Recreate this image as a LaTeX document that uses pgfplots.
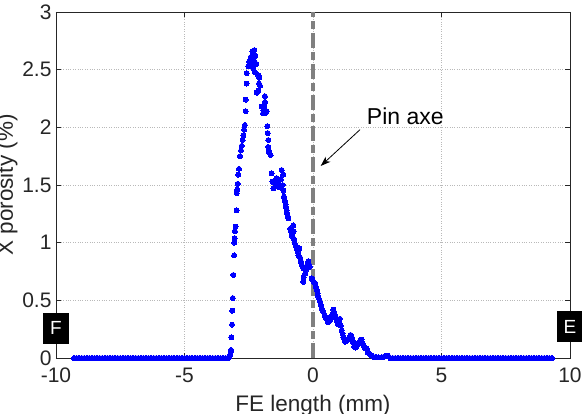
\documentclass[border=0pt]{standalone}
\usepackage{fontspec}
\setmainfont{Liberation Sans}
\usepackage{pgfplots}
\pgfplotsset{compat=1.18}
\usetikzlibrary{arrows.meta}
\definecolor{axcol}{RGB}{38,38,38}
\definecolor{gridcol}{RGB}{185,185,185}
\definecolor{pincol}{RGB}{128,128,128}
\begin{document}
\begin{tikzpicture}
\begin{axis}[
  at={(56pt,56pt)}, anchor=south west,
  width=514pt, height=346pt, scale only axis,
  xmin=-10, xmax=10, ymin=0, ymax=3,
  xtick={-10,-5,0,5,10}, xticklabels={-10,-5,0,5,10},
  ytick={0,0.5,1,1.5,2,2.5,3}, yticklabels={0,0.5,1,1.5,2,2.5,3},
  grid=major,
  major grid style={gridcol, dotted, line width=0.7pt},
  axis line style={axcol, line width=0.8pt},
  tick align=inside, major tick length=5pt,
  tick style={axcol, line width=0.8pt},
  tick label style={font=\fontsize{21}{25}\selectfont, text=axcol},
  xticklabel style={anchor=base, yshift=-25pt},
  yticklabel style={anchor=east, xshift=-1pt},
  every axis x label/.style={at={(axis description cs:0.5,-0.1532)}, anchor=base, font=\fontsize{22.5}{26}\selectfont, text=axcol},
  every axis y label/.style={at={(axis description cs:-0.0837,0.5)}, rotate=90, anchor=base, font=\fontsize{22.5}{26}\selectfont, text=axcol},
  xlabel={FE length (mm)},
  ylabel={X porosity (\%)},
  clip=false,
  axis on top=false,
]
% pin axis line
\addplot[pincol, line width=3.6pt, dash pattern=on 15pt off 4pt on 8pt off 4pt] coordinates {(0,0) (0,3)};
% flat parts
\addplot[only marks, mark=*, mark size=2.5pt, mark options={fill=blue, draw=blue, line width=0pt}] coordinates {
(-9.3,0) (-9.2,0) (-9.1,0) (-9.0,0) (-8.9,0) (-8.8,0) (-8.7,0) (-8.6,0) (-8.5,0) (-8.4,0)
(-8.3,0) (-8.2,0) (-8.1,0) (-8.0,0) (-7.9,0) (-7.8,0) (-7.7,0) (-7.6,0) (-7.5,0) (-7.4,0)
(-7.3,0) (-7.2,0) (-7.1,0) (-7.0,0) (-6.9,0) (-6.8,0) (-6.7,0) (-6.6,0) (-6.5,0) (-6.4,0)
(-6.3,0) (-6.2,0) (-6.1,0) (-6.0,0) (-5.9,0) (-5.8,0) (-5.7,0) (-5.6,0) (-5.5,0) (-5.4,0)
(-5.3,0) (-5.2,0) (-5.1,0) (-5.0,0) (-4.9,0) (-4.8,0) (-4.7,0) (-4.6,0) (-4.5,0) (-4.4,0)
(-4.3,0) (-4.2,0) (-4.1,0) (-4.0,0) (-3.9,0) (-3.8,0) (-3.7,0) (-3.6,0) (-3.5,0) (-3.4,0)
(-3.3,0) (-3.25,0.01) (-3.22,0.03) (-3.20,0.05)
(3.0,0) (3.1,0) (3.2,0) (3.3,0) (3.4,0) (3.5,0) (3.6,0) (3.7,0) (3.8,0) (3.9,0)
(4.0,0) (4.1,0) (4.2,0) (4.3,0) (4.4,0) (4.5,0) (4.6,0) (4.7,0) (4.8,0) (4.9,0)
(5.0,0) (5.1,0) (5.2,0) (5.3,0) (5.4,0) (5.5,0) (5.6,0) (5.7,0) (5.8,0) (5.9,0)
(6.0,0) (6.1,0) (6.2,0) (6.3,0) (6.4,0) (6.5,0) (6.6,0) (6.7,0) (6.8,0) (6.9,0)
(7.0,0) (7.1,0) (7.2,0) (7.3,0) (7.4,0) (7.5,0) (7.6,0) (7.7,0) (7.8,0) (7.9,0)
(8.0,0) (8.1,0) (8.2,0) (8.3,0) (8.4,0) (8.5,0) (8.6,0) (8.7,0) (8.8,0) (8.9,0)
(9.0,0) (9.1,0) (9.2,0) (9.3,0)
};
% porosity curve
\addplot[only marks, mark=*, mark size=2.5pt, mark options={fill=blue, draw=blue, line width=0pt}] table {
x y
-3.19 0.07
-3.18 0.18
-3.15 0.29
-3.14 0.41
-3.12 0.52
-3.10 0.72
-3.07 0.89
-3.06 1.00
-3.05 1.04
-3.04 1.10
-3.01 1.14
-2.97 1.28
-2.97 1.43
-2.95 1.46
-2.93 1.51
-2.91 1.59
-2.88 1.64
-2.84 1.75
-2.80 1.80
-2.77 1.84
-2.74 1.89
-2.71 1.93
-2.68 1.98
-2.65 2.02
-2.62 2.14
-2.62 2.24
-2.58 2.38
-2.58 2.47
-2.52 2.53
-2.48 2.57
-2.42 2.61
-2.36 2.66
-2.28 2.67
-2.45 2.55
-2.39 2.53
-2.32 2.51
-2.26 2.48
-2.40 2.60
-2.33 2.63
-2.30 2.58
-2.24 2.62
-2.20 2.55
-2.13 2.45
-2.09 2.43
-2.10 2.38
-2.06 2.36
-2.13 2.32
-2.19 2.30
-1.87 2.27
-1.87 2.22
-2.00 2.18
-1.93 2.15
-1.87 2.12
-1.80 2.14
-1.90 2.18
-1.95 2.12
-1.78 2.01
-1.76 1.95
-1.74 1.89
-1.74 1.83
-1.72 1.80
-1.70 1.78
-1.65 1.76
-1.61 1.60
-1.58 1.53
-1.54 1.47
-1.52 1.52
-1.48 1.54
-1.45 1.50
-1.42 1.56
-1.40 1.55
-1.38 1.51
-1.35 1.53
-1.32 1.48
-1.28 1.49
-1.25 1.55
-1.22 1.63
-1.18 1.50
-1.16 1.59
-1.15 1.45
-1.13 1.40
-1.11 1.38
-1.09 1.36
-1.07 1.33
-1.05 1.31
-1.03 1.28
-1.00 1.25
-0.98 1.23
-0.96 1.21
-0.89 1.12
-0.86 1.10
-0.83 1.07
-0.80 1.05
-0.77 1.15
-0.77 1.04
-0.75 1.10
-0.73 1.02
-0.70 0.99
-0.66 0.97
-0.63 0.95
-0.60 0.92
-0.57 0.89
-0.53 0.95
-0.50 0.87
-0.47 0.84
-0.45 0.82
-0.42 0.80
-0.38 0.78
-0.38 0.66
-0.36 0.70
-0.31 0.73
-0.28 0.76
-0.25 0.79
-0.21 0.82
-0.18 0.84
-0.15 0.81
-0.12 0.79
-0.05 0.69
-0.02 0.68
0.03 0.66
0.08 0.65
0.11 0.62
0.14 0.59
0.18 0.56
0.21 0.53
0.24 0.51
0.27 0.49
0.30 0.46
0.34 0.43
0.37 0.41
0.40 0.40
0.45 0.37
0.50 0.35
0.53 0.34
0.58 0.31
0.62 0.35
0.66 0.33
0.70 0.36
0.75 0.38
0.79 0.42
0.82 0.40
0.86 0.37
0.89 0.35
0.92 0.33
0.95 0.31
0.98 0.29
1.02 0.32
1.05 0.34
1.08 0.28
1.12 0.24
1.15 0.21
1.18 0.18
1.22 0.16
1.25 0.14
1.30 0.15
1.37 0.16
1.42 0.18
1.46 0.20
1.51 0.18
1.54 0.15
1.57 0.13
1.60 0.10
1.65 0.09
1.70 0.10
1.75 0.12
1.80 0.14
1.85 0.15
1.89 0.16
1.92 0.13
1.96 0.11
2.00 0.09
2.05 0.08
2.09 0.08
2.13 0.05
2.18 0.04
2.22 0.03
2.28 0.02
2.35 0.01
2.45 0.01
2.55 0.005
2.65 0.005
2.75 0.01
2.85 0.02
2.92 0.02
};
% annotation
\draw[black, line width=0.8pt, -{Stealth[length=10pt, width=7pt, inset=3pt]}] (axis cs:1.83,1.98) -- (axis cs:0.30,1.665);
\node[anchor=base west, inner sep=0pt, font=\fontsize{23}{27}\selectfont] at (axis cs:2.09,2.026) {Pin axe};
% F and E markers
\node[fill=black, text=white, minimum width=26pt, minimum height=31pt, inner sep=0pt, font=\fontsize{19}{22}\selectfont] at (axis cs:-10,0.26) {F};
\node[fill=black, text=white, minimum width=26pt, minimum height=31pt, inner sep=0pt, font=\fontsize{19}{22}\selectfont] at (axis cs:10,0.27) {E};
\end{axis}
\pgfresetboundingbox
\useasboundingbox (0,0) rectangle (582pt,414pt);
\end{tikzpicture}
\end{document}
